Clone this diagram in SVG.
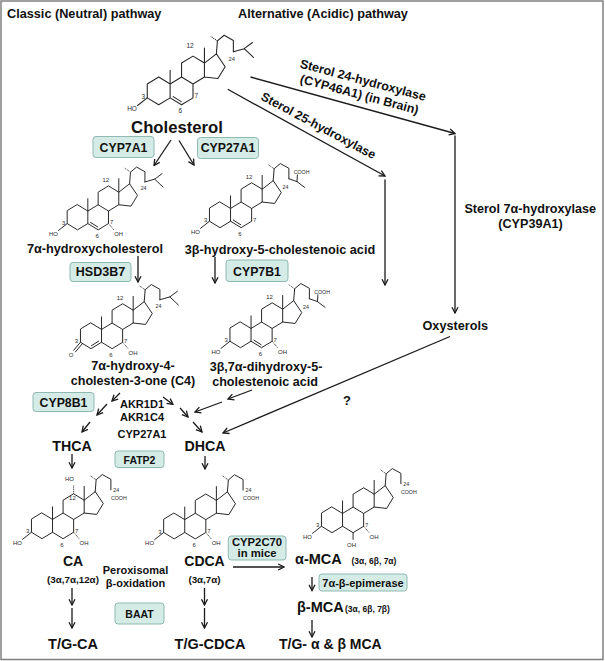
<svg xmlns="http://www.w3.org/2000/svg" xmlns:xlink="http://www.w3.org/1999/xlink" width="605" height="661" viewBox="0 0 605 661">
<style>
text{font-family:"Liberation Sans",Arial,Helvetica,sans-serif;fill:#111}
.b{font-weight:bold}
.lbl{font-size:6.3px;fill:#2a2a2a}
.sm{font-size:5.6px;fill:#2a2a2a}
.box{fill:#d4ebe6;stroke:#8fb9b1;stroke-width:1}
.bond{fill:none;stroke:#262626;stroke-width:1.05;stroke-linejoin:round;stroke-linecap:round}
.hash{fill:none;stroke:#262626;stroke-width:1.05;stroke-dasharray:1 0.9}
.con{fill:none;stroke:#1a1a1a;stroke-width:1.3}
</style>
<defs>
<marker id="ah" markerUnits="userSpaceOnUse" markerWidth="8" markerHeight="8" viewBox="0 0 8 8" refX="7" refY="4" orient="auto">
<path d="M1.2,1 L7,4 L1.2,7" fill="none" stroke="#1a1a1a" stroke-width="1.3"/>
</marker>
<g id="sk">
<path class="bond" d="M0,-10.5 L11.1,-3.75 L11.1,9.75 L0,16.5 L-11.1,9.75 L-11.1,-3.75 Z M11.1,-3.75 L22.2,-10.5 L33.3,-3.75 L33.3,9.75 L22.2,16.5 L11.1,9.75 M22.2,-10.5 L22.2,-24 L33.3,-30.75 L44.4,-24 L44.4,-10.5 L33.3,-3.75 M44.4,-24 L56,-33 L64.5,-20.5 L57.5,-9 L44.4,-10.5 M11.1,-3.75 L11.1,-17 M44.4,-24 L44.4,-38.5 M56,-33 L57,-45.5 L63.5,-51 L72.5,-46 L72.5,-35"/>
<path class="hash" d="M57,-45.5 L50.5,-50"/>
</g>
<g id="ho3">
<path class="bond" d="M-11.1,9.75 L-20.5,17.2"/>
<text class="lbl" x="-21.2" y="23" text-anchor="end">HO</text>
<text class="lbl" x="-15" y="11" text-anchor="middle">3</text>
</g>
<g id="oh7">
<path class="hash" d="M33.3,9.75 L39.5,17"/>
<text class="lbl" x="39.5" y="23">OH</text>
</g>
<g id="l7"><text class="lbl" x="36.6" y="10.2" text-anchor="middle">7</text></g>
<g id="l6"><text class="lbl" x="21" y="24.8" text-anchor="middle">6</text></g>
<g id="l12"><text class="lbl" x="30.5" y="-34.8" text-anchor="middle">12</text></g>
<g id="db56"><path class="bond" d="M14.1,8.6 L21.8,13.4"/></g>
<g id="db45"><path class="bond" d="M0.4,13.4 L8.1,8.6"/></g>
<g id="cholTail">
<path class="bond" d="M72.5,-35 L83,-38 L91,-44 M83,-38 L92,-29.5"/>
<text class="sm" x="71" y="-26" text-anchor="middle">24</text>
</g>
<g id="acidTail">
<path class="bond" d="M72.5,-35 L81,-32 L89,-26 M81,-32 L81.5,-39"/>
<text class="sm" x="69" y="-24.5" text-anchor="middle">24</text>
<text class="sm" x="77.5" y="-40.5">COOH</text>
</g>
<g id="bileTail">
<text class="sm" x="75" y="-32.5">24</text>
<text class="sm" x="72.5" y="-24.5">COOH</text>
</g>
</defs>
<rect x="0" y="0" width="605" height="661" fill="#fff"/>
<rect x="1" y="1" width="602" height="658.5" fill="none" stroke="#808080" stroke-width="1.5"/>

<g id="titles">
<text class="b" x="7" y="18" font-size="12.7">Classic (Neutral) pathway</text>
<text class="b" x="238" y="18" font-size="12.7">Alternative (Acidic) pathway</text>
</g>

<g id="n-cholesterol">
<g transform="translate(158.7,87.8) scale(1.03)">
<use href="#sk"/><use href="#db56"/><use href="#ho3"/><use href="#l6"/><use href="#l7"/><use href="#cholTail"/>
<text class="lbl" x="30.5" y="-38.3" text-anchor="middle">12</text>
</g>
<text class="b" x="177" y="133" font-size="16.7" text-anchor="middle">Cholesterol</text>
</g>

<g id="e-cyp7a1"><rect class="box" x="93" y="136.5" width="61" height="21" rx="3"/><text class="b" x="123.5" y="151.5" font-size="12.3" text-anchor="middle">CYP7A1</text></g>
<g id="e-cyp27a1"><rect class="box" x="197.5" y="137.5" width="61" height="21" rx="3"/><text class="b" x="228" y="152.3" font-size="12.3" text-anchor="middle">CYP27A1</text></g>

<g id="e-sterol24">
<text class="b" font-size="12.5" text-anchor="middle" transform="translate(362,84.2) rotate(15)">Sterol 24-hydroxylase</text>
<text class="b" font-size="12.5" text-anchor="middle" transform="translate(358.3,98.5) rotate(15)">(CYP46A1) (in Brain)</text>
</g>
<g id="e-sterol25">
<text class="b" font-size="12.3" text-anchor="middle" transform="translate(316.5,129.3) rotate(28)">Sterol 25-hydroxylase</text>
</g>
<g id="e-sterol7">
<text class="b" x="530.2" y="212.7" font-size="12.6" text-anchor="middle">Sterol 7α-hydroxylase</text>
<text class="b" x="530.5" y="227.8" font-size="12.6" text-anchor="middle">(CYP39A1)</text>
</g>

<g id="n-7a-hydroxycholesterol">
<g transform="translate(77.5,214.5) scale(0.93)">
<use href="#sk"/><use href="#db56"/><use href="#ho3"/><use href="#l6"/><use href="#l7"/><use href="#oh7"/><use href="#l12"/><use href="#cholTail"/>
</g>
<text class="b" x="95" y="252.5" font-size="12.7" text-anchor="middle">7α-hydroxycholesterol</text>
</g>

<g id="n-3b-hydroxy-cholestenoic">
<g transform="translate(220,212) scale(0.95)">
<use href="#sk"/><use href="#db56"/><use href="#ho3"/><use href="#l6"/><use href="#l7"/><use href="#l12"/><use href="#acidTail"/>
</g>
<text class="b" x="280" y="253.5" font-size="12.7" text-anchor="middle">3β-hydroxy-5-cholestenoic acid</text>
</g>

<g id="e-hsd3b7"><rect class="box" x="70" y="262.5" width="61" height="19" rx="3"/><text class="b" x="100.5" y="276.3" font-size="12.5" text-anchor="middle">HSD3B7</text></g>
<g id="e-cyp7b1"><rect class="box" x="226" y="260" width="62" height="21.5" rx="3"/><text class="b" x="257" y="276" font-size="12.3" text-anchor="middle">CYP7B1</text></g>

<g id="n-oxysterols"><text class="b" x="422.5" y="329.8" font-size="12.7">Oxysterols</text></g>

<g id="n-c4">
<g transform="translate(91,333) scale(0.95)">
<use href="#sk"/><use href="#db45"/><use href="#l6"/><use href="#l7"/><use href="#oh7"/><use href="#l12"/><use href="#cholTail"/>
<path class="bond" d="M-11.1,9.75 L-18.2,18.2 M-9.2,11.4 L-16.3,19.8"/>
<text class="lbl" x="-21" y="25" font-size="7" text-anchor="middle">O</text>
<text class="lbl" x="-15.5" y="10.5" text-anchor="middle">3</text>
</g>
<text class="b" x="133" y="370" font-size="12.6" text-anchor="middle">7α-hydroxy-4-</text>
<text class="b" x="133" y="385" font-size="12.6" text-anchor="middle">cholesten-3-one (C4)</text>
</g>

<g id="n-3b7a-dihydroxy-cholestenoic">
<g transform="translate(240.5,332) scale(0.95)">
<use href="#sk"/><use href="#db56"/><use href="#ho3"/><use href="#l6"/><use href="#l7"/><use href="#oh7"/><use href="#l12"/><use href="#acidTail"/>
</g>
<text class="b" x="266" y="370.5" font-size="12.6" text-anchor="middle">3β,7α-dihydroxy-5-</text>
<text class="b" x="265" y="385.5" font-size="12.6" text-anchor="middle">cholestenoic acid</text>
</g>

<g id="e-cyp8b1"><rect class="box" x="33" y="392.5" width="61" height="19" rx="3"/><text class="b" x="63.5" y="406.5" font-size="12.3" text-anchor="middle">CYP8B1</text></g>
<g id="e-akr">
<text class="b" x="142" y="408" font-size="11" text-anchor="middle">AKR1D1</text>
<text class="b" x="142" y="420.7" font-size="11" text-anchor="middle">AKR1C4</text>
<text class="b" x="142" y="437.7" font-size="11" text-anchor="middle">CYP27A1</text>
</g>
<g id="q"><text class="b" x="347" y="404.5" font-size="13" text-anchor="middle">?</text></g>

<g id="n-thca"><text class="b" x="72" y="450.7" font-size="14.2" text-anchor="middle">THCA</text></g>
<g id="n-dhca"><text class="b" x="205" y="450.7" font-size="14.2" text-anchor="middle">DHCA</text></g>
<g id="e-fatp2"><rect class="box" x="115" y="451" width="49" height="16.5" rx="3"/><text class="b" x="139.5" y="463.5" font-size="10.5" text-anchor="middle">FATP2</text></g>

<g id="n-ca">
<g transform="translate(42,523) scale(0.95)">
<use href="#sk"/><use href="#ho3"/><use href="#l6"/><use href="#l7"/><use href="#oh7"/><use href="#bileTail"/>
<path class="hash" d="M33.3,-30.75 L33.3,-40"/>
<text class="lbl" x="29" y="-44.5" text-anchor="middle">HO</text>
<text class="lbl" x="32" y="-24.3" text-anchor="middle">12</text>
</g>
<text class="b" x="73" y="566" font-size="14" text-anchor="middle">CA</text>
<text class="b" x="73" y="583" font-size="9.8" text-anchor="middle">(3α,7α,12α)</text>
</g>

<g id="e-perox">
<text class="b" x="135.5" y="574" font-size="11" text-anchor="middle">Peroxisomal</text>
<text class="b" x="135.5" y="586.5" font-size="11" text-anchor="middle">β-oxidation</text>
</g>

<g id="n-cdca">
<g transform="translate(174.2,523.2) scale(0.95)">
<use href="#sk"/><use href="#ho3"/><use href="#l6"/><use href="#l7"/><use href="#oh7"/><use href="#bileTail"/>
</g>
<text class="b" x="204.5" y="566" font-size="14" text-anchor="middle">CDCA</text>
<text class="b" x="204.5" y="583" font-size="9.8" text-anchor="middle">(3α,7α)</text>
</g>

<g id="e-cyp2c70"><rect class="box" x="228.3" y="536" width="57.7" height="24" rx="3"/>
<text class="b" x="257" y="545.8" font-size="11.3" text-anchor="middle">CYP2C70</text>
<text class="b" x="257" y="556.8" font-size="11.3" text-anchor="middle">in mice</text></g>

<g id="e-baat"><rect class="box" x="115" y="603" width="49" height="21" rx="3"/><text class="b" x="139.5" y="617.5" font-size="10.5" text-anchor="middle">BAAT</text></g>

<g id="n-tg-ca"><text class="b" x="73" y="649" font-size="14.5" text-anchor="middle">T/G-CA</text></g>
<g id="n-tg-cdca"><text class="b" x="210" y="649" font-size="14.5" text-anchor="middle">T/G-CDCA</text></g>

<g id="n-amca">
<g transform="translate(332,517) scale(0.95)">
<use href="#sk"/><use href="#ho3"/><use href="#l7"/><use href="#oh7"/><use href="#bileTail"/>
<path class="bond" d="M22.2,16.5 L22.2,23.5"/>
<text class="lbl" x="20.5" y="31.5" text-anchor="middle">OH</text>
</g>
<text class="b" x="295" y="564"><tspan font-size="14.5">α-MCA</tspan><tspan x="351.5" font-size="8.5">(3α, 6β, 7α)</tspan></text>
</g>
<g id="e-epimerase"><rect class="box" x="319" y="574" width="88" height="17" rx="3"/><text class="b" x="363" y="587" font-size="11" text-anchor="middle">7α-β-epimerase</text></g>
<g id="n-bmca"><text class="b" x="297" y="612"><tspan font-size="14.5">β-MCA</tspan><tspan x="345" font-size="8.5">(3α, 6β, 7β)</tspan></text></g>
<g id="n-tg-mca"><text class="b" x="279" y="648.5" font-size="14">T/G- α &amp; β MCA</text></g>

<g id="connectors" class="con">
<line x1="171" y1="140" x2="154" y2="165.5" marker-end="url(#ah)"/>
<line x1="179" y1="140.5" x2="194" y2="165" marker-end="url(#ah)"/>
<line x1="250.5" y1="77" x2="455" y2="133.5" marker-end="url(#ah)"/>
<line x1="455" y1="135.5" x2="455" y2="313" marker-end="url(#ah)"/>
<line x1="227.7" y1="89.3" x2="385" y2="176" marker-end="url(#ah)"/>
<line x1="385" y1="179.5" x2="385" y2="285" marker-end="url(#ah)"/>
<line x1="450" y1="336.5" x2="223" y2="433" marker-end="url(#ah)"/>
<line x1="138" y1="256" x2="138" y2="282" marker-end="url(#ah)"/>
<line x1="215" y1="257" x2="215" y2="283" marker-end="url(#ah)"/>
<line x1="120" y1="393" x2="112" y2="401" marker-end="url(#ah)"/>
<line x1="107" y1="404" x2="97" y2="415" marker-end="url(#ah)"/>
<line x1="90" y1="422" x2="82" y2="432" marker-end="url(#ah)"/>
<line x1="163" y1="397" x2="173" y2="404.5" marker-end="url(#ah)"/>
<line x1="180" y1="408" x2="188" y2="417" marker-end="url(#ah)"/>
<line x1="193" y1="422" x2="202" y2="432" marker-end="url(#ah)"/>
<line x1="252" y1="390" x2="228" y2="399" marker-end="url(#ah)"/>
<line x1="222" y1="402" x2="195" y2="412" marker-end="url(#ah)"/>
<line x1="72" y1="454" x2="72" y2="468" marker-end="url(#ah)"/>
<line x1="205" y1="456" x2="205" y2="469" marker-end="url(#ah)"/>
<line x1="72" y1="588" x2="72" y2="605" marker-end="url(#ah)"/>
<line x1="72" y1="608" x2="72" y2="628" marker-end="url(#ah)"/>
<line x1="204.5" y1="588" x2="204.5" y2="605" marker-end="url(#ah)"/>
<line x1="204.5" y1="608" x2="204.5" y2="628" marker-end="url(#ah)"/>
<line x1="233" y1="567" x2="284" y2="567" marker-end="url(#ah)"/>
<line x1="312" y1="577" x2="312" y2="590.5" marker-end="url(#ah)"/>
<line x1="312" y1="620" x2="312" y2="637" marker-end="url(#ah)"/>
</g>
</svg>
